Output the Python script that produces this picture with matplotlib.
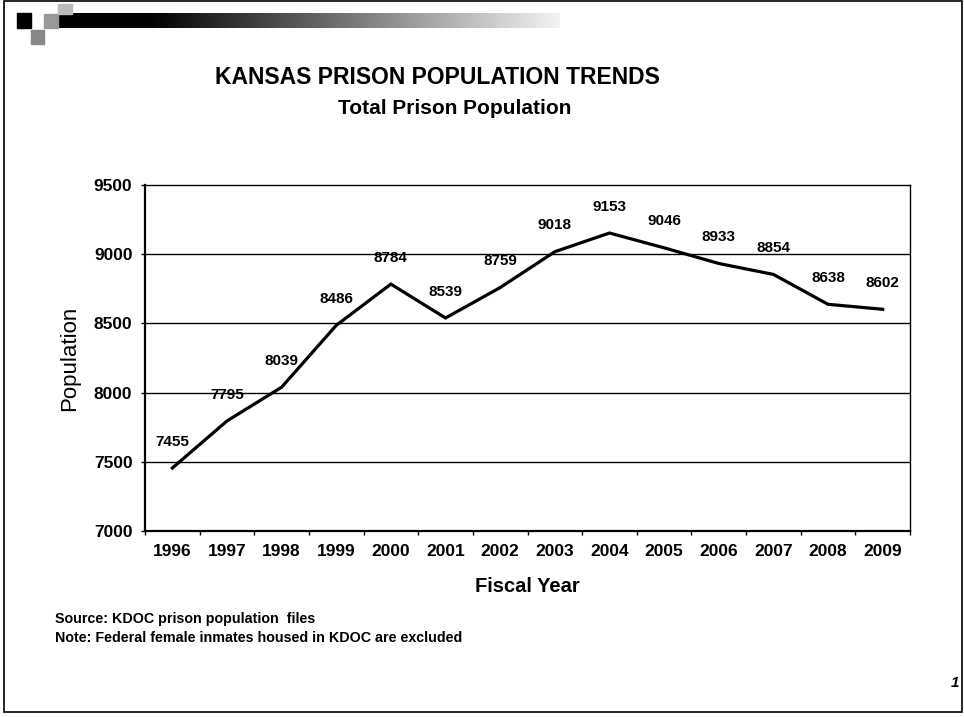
import numpy as np
import matplotlib
matplotlib.use('Agg')
import matplotlib.pyplot as plt
from matplotlib.patches import Rectangle

plt.rcParams['font.family'] = ['Liberation Sans', 'DejaVu Sans']

# data
years = ['1996', '1997', '1998', '1999', '2000', '2001', '2002',
         '2003', '2004', '2005', '2006', '2007', '2008', '2009']
population = [7455, 7795, 8039, 8486, 8784, 8539, 8759,
              9018, 9153, 9046, 8933, 8854, 8638, 8602]
y_ticks = [7000, 7500, 8000, 8500, 9000, 9500]

W, H = 964, 717
fig = plt.figure(figsize=(W / 100, H / 100), dpi=100)

def px_rect(x0, y0, x1, y1):
    # figure fraction rect from pixel coords (top-left origin)
    return [x0 / W, 1 - y1 / H, (x1 - x0) / W, (y1 - y0) / H]

# page border
fig.patches.append(Rectangle((4 / W, 1 - 712 / H), 958 / W, 711 / H,
                             transform=fig.transFigure, fill=False,
                             edgecolor='black', linewidth=1.2))

# header decoration: black square + fading bar
fig.patches.append(Rectangle((17 / W, 1 - 28 / H), 14 / W, 15 / H,
                             transform=fig.transFigure, color='black'))
for (x0, y0, x1, y1, c) in [(31, 30, 44, 44, '#888888'), (44, 14, 58, 28, '#999999'),
                            (58, 4, 72, 14, '#bbbbbb')]:
    fig.patches.append(Rectangle((x0 / W, 1 - y1 / H), (x1 - x0) / W, (y1 - y0) / H,
                                 transform=fig.transFigure, color=c))
bar = fig.add_axes(px_rect(58, 13, 560, 28))
grad = np.concatenate([np.zeros(90), np.linspace(0.0, 0.95, 410)])
bar.imshow(grad[np.newaxis, :], cmap='gray', vmin=0, vmax=1, aspect='auto')
bar.axis('off')

ax = fig.add_axes(px_rect(145, 185, 910, 531))
x = np.arange(len(years))
ax.plot(x, population, color='black', linewidth=2.3, solid_joinstyle='miter')

for xi, v in zip(x, population):
    ax.annotate(str(v), (xi, v), xytext=(0, 19), textcoords='offset points',
                ha='center', va='center', fontsize=11, fontweight='bold')

ax.set_xlim(-0.5, len(years) - 0.5)
ax.set_ylim(y_ticks[0], y_ticks[-1])
ax.set_yticks(y_ticks)
ax.set_yticklabels([str(t) for t in y_ticks], fontsize=12.5, fontweight='bold')
ax.set_xticks(x)
ax.set_xticklabels(years, fontsize=12.5, fontweight='bold')
ax.set_xticks(np.arange(len(years) + 1) - 0.5, minor=True)
ax.tick_params(axis='x', which='major', length=0, pad=9)
ax.tick_params(axis='x', which='minor', length=3, direction='out', width=1)
ax.tick_params(axis='y', length=3, direction='out', width=1, pad=6)

for t in y_ticks[1:-1]:
    ax.axhline(t, color='black', linewidth=1.0, zorder=0)

for side in ['left', 'bottom']:
    ax.spines[side].set_linewidth(1.6)
ax.spines['top'].set_linewidth(1.0)
ax.spines['right'].set_linewidth(1.0)

ax.set_ylabel('Population', fontsize=16, labelpad=10)
ax.set_xlabel('Fiscal Year', fontsize=14.5, fontweight='bold', labelpad=13)

fig.text(437 / W, 1 - 78 / H, 'KANSAS PRISON POPULATION TRENDS',
         ha='center', va='center', fontsize=16.5, fontweight='bold')
fig.text(455 / W, 1 - 108 / H, 'Total Prison Population',
         ha='center', va='center', fontsize=15, fontweight='bold')

fig.text(55 / W, 1 - 619 / H, 'Source: KDOC prison population  files',
         ha='left', va='center', fontsize=10.3, fontweight='bold')
fig.text(55 / W, 1 - 638 / H, 'Note: Federal female inmates housed in KDOC are excluded',
         ha='left', va='center', fontsize=10.3, fontweight='bold')
fig.text(955 / W, 1 - 683 / H, '1', ha='center', va='center',
         fontsize=11, fontweight='bold', style='italic')

fig.savefig('out.png', dpi=100)
